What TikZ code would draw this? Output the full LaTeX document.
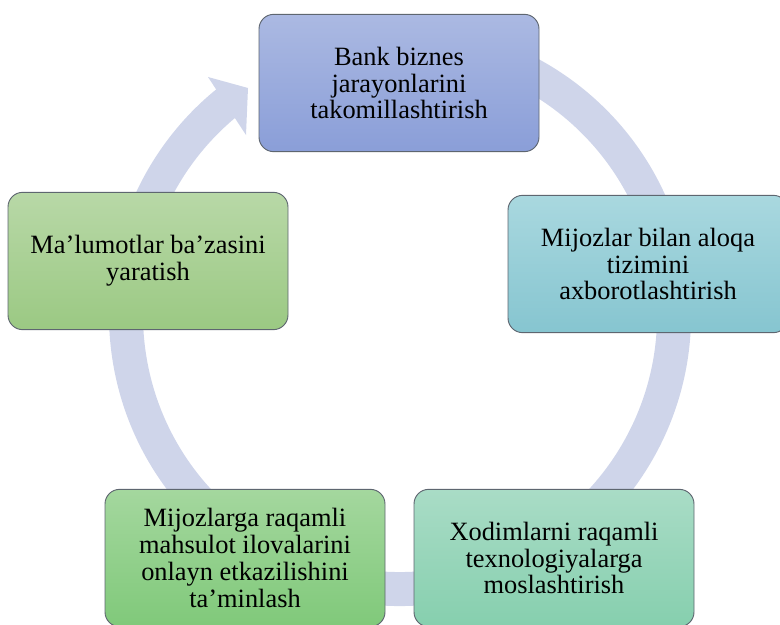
\documentclass[tikz,border=0pt]{standalone}
\usepackage{fontspec}
\setmainfont{Liberation Serif}
\usetikzlibrary{calc}
\definecolor{ringcol}{HTML}{CFD5EA}
\definecolor{edgecol}{HTML}{5E6670}
\definecolor{blueT}{HTML}{ABB9E2}\definecolor{blueB}{HTML}{8A9ED8}
\definecolor{tealT}{HTML}{A9D8DF}\definecolor{tealB}{HTML}{86C5D0}
\definecolor{mintT}{HTML}{A9DCC6}\definecolor{mintB}{HTML}{86CFAE}
\definecolor{greenT}{HTML}{A4D79E}\definecolor{greenB}{HTML}{80C97A}
\definecolor{oliveT}{HTML}{B8D8A7}\definecolor{oliveB}{HTML}{9BC983}
\begin{document}
\begin{tikzpicture}[x=0.75pt,y=-0.75pt,
  stage/.style={draw=edgecol, line width=0.7pt, rounded corners=11pt,
    minimum width=210pt, minimum height=103pt, inner sep=0pt,
    align=center, font=\fontsize{19.8}{20.2}\selectfont},
  ring/.style={ringcol, line width=25.5pt}]
\useasboundingbox (0,0) rectangle (780,624);
\clip (0,0) rectangle (780,624);

% cycle ring running clockwise, ending in an arrowhead at the upper left
\coordinate (C) at (400,315);
\draw[ring] (C) ++(-100:274) arc[start angle=-100, end angle=231, radius=274];
\fill[ringcol] (208,77) -- (248,88) -- (246,135) -- cycle;

% stages of the cycle
\node[stage, top color=blueT, bottom color=blueB] (s1) at (399,83)
  {Bank biznes\\jarayonlarini\\takomillashtirish};
\node[stage, top color=tealT, bottom color=tealB] (s2) at (648,264)
  {Mijozlar bilan aloqa\\tizimini\\axborotlashtirish};
\node[stage, top color=mintT, bottom color=mintB] (s3) at (554,558)
  {Xodimlarni raqamli\\texnologiyalarga\\moslashtirish};
\node[stage, top color=greenT, bottom color=greenB] (s4) at (245,558)
  {Mijozlarga raqamli\\mahsulot ilovalarini\\onlayn etkazilishini\\ta’minlash};
\node[stage, top color=oliveT, bottom color=oliveB] (s5) at (148,261)
  {Ma’lumotlar ba’zasini\\yaratish};
\end{tikzpicture}
\end{document}
